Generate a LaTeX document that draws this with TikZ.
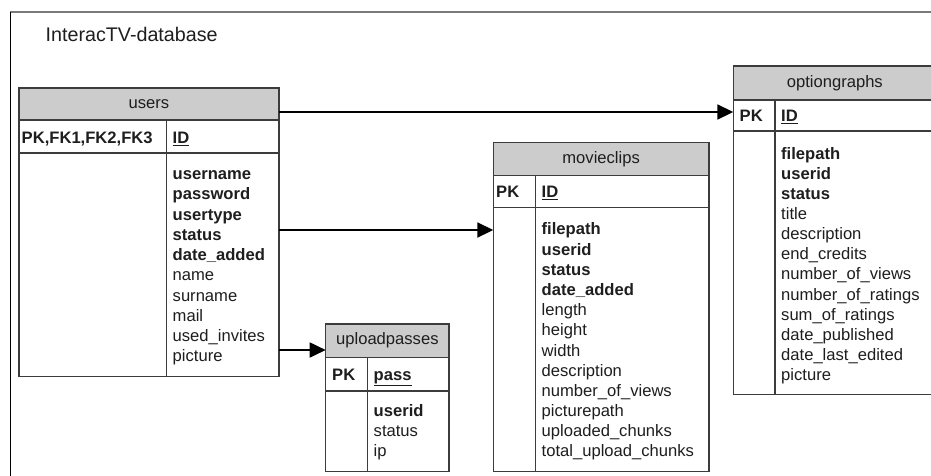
\documentclass[tikz,border=0pt]{standalone}
\usepackage{fontspec}
\setmainfont{Liberation Sans}
\usetikzlibrary{arrows.meta}

\definecolor{rim}{HTML}{3C3C3C}
\definecolor{headgray}{HTML}{CCCCCC}
\definecolor{ink}{HTML}{1E1E1E}
\definecolor{frametop}{HTML}{7A7A7A}

\tikzset{
  cell/.style={draw=rim, line width=1.5pt, inner sep=0pt, outer sep=0pt, anchor=north west},
  headcell/.style={cell, fill=headgray, text=ink, font=\fontsize{16.6}{20}\selectfont},
  divider/.style={draw=rim, line width=1.5pt},
  field/.style={inner sep=0pt, anchor=mid west, text=ink, font=\fontsize{16.6}{20}\selectfont},
  keytxt/.style={inner sep=0pt, anchor=base west, text=ink, font=\fontsize{16.6}{20}\selectfont\bfseries},
  link/.style={draw=black, line width=1.8pt, -{Triangle[length=16pt,width=15pt]}},
}

\begin{document}
\begin{tikzpicture}[x=1pt, y=-1pt]
\useasboundingbox (0,0) rectangle (931,475);
\clip (0,0) rectangle (931,475);
\fill[white] (0,0) rectangle (931,475);

% page frame
\draw[frametop, line width=1.4pt] (10,12) -- (945,12);
\draw[black, line width=1.4pt] (10.5,490) -- (10.5,12);

% title
\node[inner sep=0pt, anchor=base west, text=ink, font=\fontsize{19.7}{24}\selectfont]
  (title) at (45.5,41.7) {InteracTV-database};

% ---------------- users ----------------
\node[cell, minimum width=260pt, minimum height=223.7pt] (users-b) at (19,153) {};
\node[cell, minimum width=260pt, minimum height=33pt] (users-pk) at (19,120) {};
\node[headcell, minimum width=260pt, minimum height=32pt] (users-h) at (19,88) {users};
\coordinate (users-div) at (166.7,0);
\draw[divider] (users-pk.north -| users-div) -- (users-b.south -| users-div);
\node[keytxt] (users-k) at (21.5,143.3) {PK,FK1,FK2,FK3};
\node[keytxt] (users-id) at (172.5,143.3) {\underline{ID}};
\foreach \f [count=\i from 0] in {\textbf{username},\textbf{password},\textbf{usertype},
    \textbf{status},\textbf{date\_added},name,surname,mail,used\_invites,picture}
  \node[field] (users-f\i) at ({172.5},{176.9+20.25*\i}) {\f};

% ---------------- uploadpasses ----------------
\node[cell, minimum width=123.3pt, minimum height=80.7pt] (up-b) at (325.7,391) {};
\node[cell, minimum width=123.3pt, minimum height=33.7pt] (up-pk) at (325.7,357.3) {};
\node[headcell, minimum width=123.3pt, minimum height=33.3pt] (up-h) at (325.7,324) {uploadpasses};
\coordinate (up-div) at (367.7,0);
\draw[divider] (up-pk.north -| up-div) -- (up-b.south -| up-div);
\node[keytxt] (up-k) at (332,380) {PK};
\node[keytxt] (up-id) at (373.5,380) {\underline{pass}};
\foreach \f [count=\i from 0] in {\textbf{userid},status,ip}
  \node[field] (up-f\i) at ({373.5},{414.3+20*\i}) {\f};

% ---------------- movieclips ----------------
\node[cell, minimum width=215.7pt, minimum height=264pt] (mc-b) at (493.3,207.7) {};
\node[cell, minimum width=215.7pt, minimum height=32pt] (mc-pk) at (493.3,175.7) {};
\node[headcell, minimum width=215.7pt, minimum height=33.4pt] (mc-h) at (493.3,142.3) {movieclips};
\coordinate (mc-div) at (535.7,0);
\draw[divider] (mc-pk.north -| mc-div) -- (mc-b.south -| mc-div);
\node[keytxt] (mc-k) at (496,197.7) {PK};
\node[keytxt] (mc-id) at (541.5,197.7) {\underline{ID}};
\foreach \f [count=\i from 0] in {\textbf{filepath},\textbf{userid},\textbf{status},
    \textbf{date\_added},length,height,width,description,number\_of\_views,
    picturepath,uploaded\_chunks,total\_upload\_chunks}
  \node[field] (mc-f\i) at ({541.5},{232.3+20.18*\i}) {\f};

% ---------------- optiongraphs ----------------
\node[cell, minimum width=203pt, minimum height=263.3pt] (og-b) at (733.3,131) {};
\node[cell, minimum width=203pt, minimum height=31pt] (og-pk) at (733.3,100) {};
\node[headcell, minimum width=203pt, minimum height=34pt] (og-h) at (733.3,66) {optiongraphs};
\coordinate (og-div) at (775,0);
\draw[divider] (og-pk.north -| og-div) -- (og-b.south -| og-div);
\node[keytxt] (og-k) at (739.5,121.7) {PK};
\node[keytxt] (og-id) at (781,121.7) {\underline{ID}};
\foreach \f [count=\i from 0] in {\textbf{filepath},\textbf{userid},\textbf{status},
    title,description,end\_credits,number\_of\_views,number\_of\_ratings,
    sum\_of\_ratings,date\_published,date\_last\_edited,picture}
  \node[field] (og-f\i) at ({781},{156.7+20.1*\i}) {\f};

% ---------------- relationships ----------------
\coordinate (og-in) at (733.3,112);
\coordinate (mc-in) at (493.3,230);
\coordinate (up-in) at (325.7,350);
\draw[link] (users-h.east |- og-in) -- (og-in);
\draw[link] (users-b.east |- mc-in) -- (mc-in);
\draw[link] (users-b.east |- up-in) -- (up-in);
\end{tikzpicture}
\end{document}
